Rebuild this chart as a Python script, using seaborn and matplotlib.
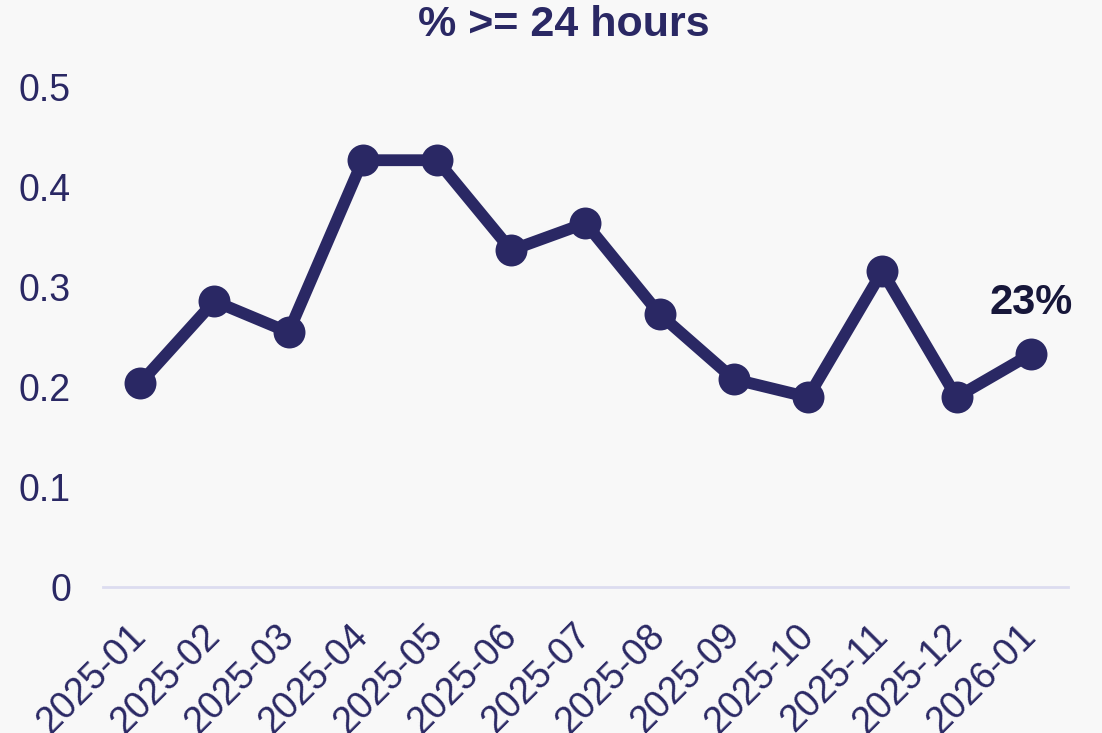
import pandas as pd
import matplotlib
matplotlib.use('Agg')
import matplotlib.pyplot as plt
import seaborn as sns

# Data
months = ['2025-01', '2025-02', '2025-03', '2025-04', '2025-05', '2025-06', '2025-07',
          '2025-08', '2025-09', '2025-10', '2025-11', '2025-12', '2026-01']
share_24h = [0.204, 0.286, 0.255, 0.427, 0.427, 0.337, 0.364,
             0.273, 0.208, 0.190, 0.316, 0.190, 0.233]
y_ticks = [0, 0.1, 0.2, 0.3, 0.4, 0.5]
y_tick_labels = ['0', '0.1', '0.2', '0.3', '0.4', '0.5']

navy = '#2a2864'
bg = '#f8f8f8'

df = pd.DataFrame({'month': months, 'share': share_24h})
df['pos'] = range(len(df))

sns.set_style('white')
plt.rcParams['font.family'] = ['Liberation Sans', 'DejaVu Sans']

fig = plt.figure(figsize=(11.02, 7.33), dpi=100, facecolor=bg)
ax = fig.add_axes([0.0935, 0.199, 0.8755, 0.682])
ax.set_facecolor(bg)

sns.lineplot(data=df, x='pos', y='share', ax=ax, color=navy, linewidth=8.5,
             marker='o', markersize=23, markeredgewidth=0, markerfacecolor=navy)

# label on the last point
last = df.iloc[-1]
ax.annotate(f"{last['share'] * 100:.0f}%", (last['pos'], last['share']),
            xytext=(0, 37), textcoords='offset points', ha='center', va='center',
            fontsize=30, fontweight='bold', color='#17173a')

ax.set_xlim(-0.5, len(df) - 0.5)
ax.set_ylim(0, 0.5)
ax.set_xticks(df['pos'])
ax.set_xticklabels(months, rotation=45, ha='right', va='center', rotation_mode='anchor')
ax.set_yticks(y_ticks)
ax.set_yticklabels(y_tick_labels)
ax.tick_params(axis='both', length=0, labelsize=27, labelcolor=navy)
ax.tick_params(axis='x', pad=31)
ax.tick_params(axis='y', pad=23)
ax.set_xlabel('')
ax.set_ylabel('')

for side in ['top', 'right', 'left']:
    ax.spines[side].set_visible(False)
ax.spines['bottom'].set_color('#dcdcf0')
ax.spines['bottom'].set_linewidth(2)

fig.text(0.512, 0.966, '% >= 24 hours', ha='center', va='center',
         fontsize=31, fontweight='bold', color=navy)

fig.savefig('out.png', dpi=100, facecolor=bg)
